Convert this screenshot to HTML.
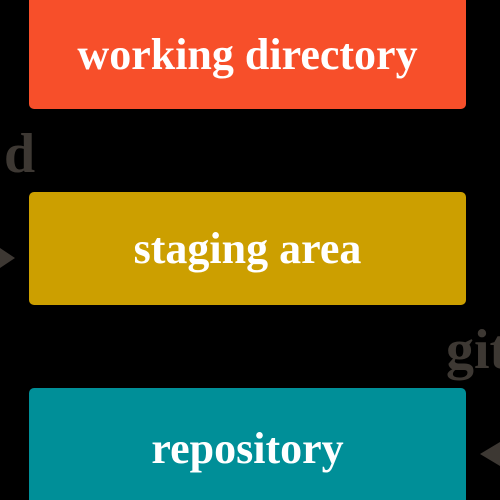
<!DOCTYPE html>
<html><head><style>
html,body{margin:0;width:500px;height:500px;overflow:hidden}
body{background:#000;position:relative;font-family:"Liberation Serif",serif;font-weight:bold}
.b{position:absolute;left:29px;width:437px;border-radius:5px;color:#fff;text-align:center;font-size:44px}
.t{position:absolute;color:#3d3833;font-size:56px}
</style></head><body>
<div class="b" style="top:-10px;height:119px;background:#f74f2a;line-height:130px">working directory</div>
<div class="b" style="top:192px;height:113px;background:#cc9f00;line-height:113px">staging area</div>
<div class="b" style="top:388px;height:112px;border-radius:5px 5px 0 0;background:#008f98;line-height:122px">repository</div>
<div class="t" style="left:4px;top:122px">d</div>
<div class="t" style="left:446px;top:318px">git</div>
<svg style="position:absolute;left:0;top:0" width="500" height="500">
<polygon points="0,248 15,258 0,268" fill="#3d3833"/>
<polygon points="500,442 480,454 500,466" fill="#3d3833"/>
</svg>
</body></html>
